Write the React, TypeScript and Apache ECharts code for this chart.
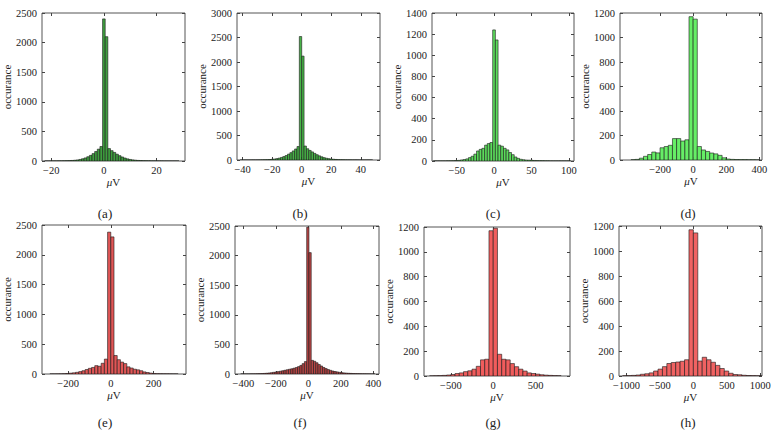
import React, { useEffect, useRef } from "react";
import * as echarts from "echarts";

// ---------- data ----------
// each histogram: left edge of first bin, bin width, counts per bin
const binStartA = -22.5;
const binWidthA = 1;
const countsA = [1, 1, 1, 2, 2, 3, 3, 4, 5, 7, 9, 13, 18, 26, 38, 52, 72, 95, 125, 160, 200, 245, 2400, 2100, 210, 175, 145, 115, 90, 68, 50, 36, 26, 19, 14, 10, 8, 6, 5, 4, 3, 3, 2, 2, 2, 1, 1, 1, 1, 1, 1];

const binStartB = -41.6;
const binWidthB = 1.6;
const countsB = [1, 1, 1, 1, 1, 2, 2, 2, 3, 4, 5, 7, 10, 14, 20, 28, 38, 52, 70, 92, 120, 150, 185, 225, 275, 2520, 2120, 285, 230, 195, 165, 135, 108, 85, 65, 48, 36, 27, 20, 15, 11, 8, 6, 5, 4, 3, 3, 2, 2, 2, 1, 1, 1, 1, 1, 1];

const binStartC = -81;
const binWidthC = 3.6;
const countsC = [1, 1, 1, 1, 1, 2, 2, 3, 4, 6, 10, 14, 20, 32, 45, 65, 95, 110, 120, 150, 165, 175, 1240, 1145, 150, 140, 120, 105, 80, 60, 38, 25, 16, 12, 9, 8, 7, 5, 4, 3, 3, 2, 2, 1, 1, 1, 1, 1, 1, 1, 1];

const binStartD = -375;
const binWidthD = 25;
const countsD = [2, 5, 15, 30, 45, 65, 58, 100, 110, 120, 175, 175, 155, 165, 1170, 1150, 110, 82, 70, 57, 50, 38, 18, 8, 5, 4, 3, 3, 2, 2, 1];

const binStartE = -285;
const binWidthE = 15;
const countsE = [1, 1, 2, 3, 5, 8, 14, 20, 28, 40, 55, 75, 95, 110, 140, 130, 180, 250, 2380, 2300, 310, 240, 200, 175, 120, 100, 80, 70, 55, 35, 25, 15, 8, 5, 4, 3, 3, 2, 1, 1];

const binStartF = -416;
const binWidthF = 14;
const countsF = [1, 1, 1, 1, 2, 2, 3, 4, 5, 7, 10, 13, 17, 22, 28, 34, 40, 47, 55, 63, 72, 80, 88, 98, 110, 125, 145, 175, 210, 2480, 2050, 230, 215, 190, 160, 135, 110, 92, 75, 62, 50, 42, 35, 28, 22, 18, 15, 12, 10, 8, 7, 5, 4, 3, 3, 2, 2, 1, 1];

const binStartG = -750;
const binWidthG = 50;
const countsG = [1, 2, 3, 5, 8, 12, 20, 25, 35, 42, 55, 78, 130, 135, 1170, 1190, 175, 135, 130, 100, 75, 55, 40, 25, 20, 15, 10, 7, 5, 3, 2];

const binStartH = -1056;
const binWidthH = 66;
const countsH = [2, 3, 5, 8, 14, 18, 25, 40, 55, 75, 100, 108, 112, 118, 130, 1170, 1145, 120, 150, 130, 110, 85, 60, 40, 22, 12, 10, 6, 4, 3, 2, 1];

// axis ranges and tick labels
const xRangeA = [-23.5, 30.8];
const xRangeB = [-43.8, 53];
const xRangeC = [-83, 107];
const xRangeD = [-442, 416];
const xRangeE = [-322, 352];
const xRangeF = [-451, 435];
const xRangeG = [-816, 905];
const xRangeH = [-1111, 1025];

const xTicksA = [-20, 0, 20];
const xTicksB = [-40, -20, 0, 20, 40];
const xTicksC = [-50, 0, 50, 100];
const xTicksD = [-200, 0, 200, 400];
const xTicksE = [-200, 0, 200];
const xTicksF = [-400, -200, 0, 200, 400];
const xTicksG = [-500, 0, 500];
const xTicksH = [-1000, -500, 0, 500, 1000];

const yMaxes = [2500, 3000, 1400, 1200, 2500, 2500, 1200, 1200];
const yIntervals = [500, 500, 200, 200, 500, 500, 200, 200];
const captions = ["(a)", "(b)", "(c)", "(d)", "(e)", "(f)", "(g)", "(h)"];
const xAxisName = "{i|\u03bc}V";
const yAxisName = "occurance";

// ---------- layout & style ----------
const FONT = "Liberation Serif";
const TEXT = "#222";
const layouts = [
  { left: 42, top: 13, width: 143, height: 148, nameGap: 26, cap: [105, 213] },
  { left: 237, top: 13, width: 143, height: 147, nameGap: 26, cap: [300, 213] },
  { left: 432, top: 13, width: 142, height: 148, nameGap: 27, cap: [493, 213] },
  { left: 620, top: 13, width: 142, height: 147, nameGap: 19, cap: [688, 213] },
  { left: 42, top: 225, width: 144, height: 149, nameGap: 26, cap: [105, 422] },
  { left: 235, top: 226, width: 144, height: 148, nameGap: 24, cap: [300, 422] },
  { left: 424, top: 227, width: 146, height: 149, nameGap: 21, cap: [493, 422] },
  { left: 619, top: 226, width: 143, height: 150, nameGap: 25, cap: [688, 422] },
];
const fills = ["#3f9f3f", "#47b247", "#5cdc5c", "#66ee66", "#e05656", "#b84444", "#f05c5c", "#f06262"];

const panels = [
  { start: binStartA, w: binWidthA, counts: countsA, range: xRangeA, ticks: xTicksA },
  { start: binStartB, w: binWidthB, counts: countsB, range: xRangeB, ticks: xTicksB },
  { start: binStartC, w: binWidthC, counts: countsC, range: xRangeC, ticks: xTicksC },
  { start: binStartD, w: binWidthD, counts: countsD, range: xRangeD, ticks: xTicksD },
  { start: binStartE, w: binWidthE, counts: countsE, range: xRangeE, ticks: xTicksE },
  { start: binStartF, w: binWidthF, counts: countsF, range: xRangeF, ticks: xTicksF },
  { start: binStartG, w: binWidthG, counts: countsG, range: xRangeG, ticks: xTicksG },
  { start: binStartH, w: binWidthH, counts: countsH, range: xRangeH, ticks: xTicksH },
];

const fmt = (v: number) => String(v).replace("-", "\u2212");

function buildOption() {
  const grid: any[] = [];
  const xAxis: any[] = [];
  const yAxis: any[] = [];
  const series: any[] = [];
  const graphic: any[] = [];
  const tickStyle = { color: "#444", width: 1 };
  panels.forEach((p, i) => {
    const L = layouts[i];
    grid.push({
      left: L.left, top: L.top, width: L.width, height: L.height,
      show: true, borderColor: "#555", borderWidth: 1, backgroundColor: "transparent",
    });
    xAxis.push({
      type: "value", gridIndex: i, min: p.range[0], max: p.range[1], position: "bottom",
      axisLine: { show: false, onZero: false }, splitLine: { show: false },
      axisTick: { inside: true, length: 3, customValues: p.ticks, lineStyle: tickStyle },
      axisLabel: { customValues: p.ticks, formatter: fmt, fontFamily: FONT, fontSize: 10.5, color: TEXT, margin: 4 },
      name: xAxisName, nameLocation: "middle", nameGap: 15,
      nameTextStyle: {
        fontFamily: FONT, fontSize: 11, color: TEXT,
        rich: { i: { fontFamily: FONT, fontSize: 11, fontStyle: "italic", color: TEXT } },
      },
    });
    xAxis.push({
      type: "value", gridIndex: i, min: p.range[0], max: p.range[1], position: "top",
      axisLine: { show: false, onZero: false }, splitLine: { show: false }, axisLabel: { show: false },
      axisTick: { inside: true, length: 3, customValues: p.ticks, lineStyle: tickStyle },
    });
    yAxis.push({
      type: "value", gridIndex: i, min: 0, max: yMaxes[i], interval: yIntervals[i], position: "left",
      axisLine: { show: false, onZero: false }, splitLine: { show: false },
      axisTick: { inside: true, length: 3, lineStyle: tickStyle },
      axisLabel: { formatter: fmt, fontFamily: FONT, fontSize: 10.5, color: TEXT, margin: 5 },
      name: yAxisName, nameLocation: "middle", nameGap: L.nameGap,
      nameTextStyle: { fontFamily: FONT, fontSize: 11, color: TEXT },
    });
    yAxis.push({
      type: "value", gridIndex: i, min: 0, max: yMaxes[i], interval: yIntervals[i], position: "right",
      axisLine: { show: false, onZero: false }, splitLine: { show: false }, axisLabel: { show: false },
      axisTick: { inside: true, length: 3, lineStyle: tickStyle },
    });
    const data = p.counts.map((c, k) => [p.start + k * p.w, p.start + (k + 1) * p.w, c]);
    const fill = fills[i];
    series.push({
      type: "custom", xAxisIndex: 2 * i, yAxisIndex: 2 * i, data, clip: true,
      encode: { x: [0, 1], y: 2 },
      renderItem: (_params: any, api: any) => {
        const a = api.coord([api.value(0), api.value(2)]);
        const b = api.coord([api.value(1), 0]);
        return {
          type: "rect",
          shape: { x: a[0], y: a[1], width: b[0] - a[0], height: b[1] - a[1] },
          style: { fill, stroke: "#1a1a1a", lineWidth: 0.6 },
        };
      },
    });
    graphic.push({
      type: "text", x: L.cap[0], y: L.cap[1],
      style: { text: captions[i], fontFamily: FONT, fontSize: 13, fill: TEXT, textAlign: "center", textVerticalAlign: "middle" },
    });
  });
  return { animation: false, backgroundColor: "#fff", grid, xAxis, yAxis, series, graphic };
}

export default function App() {
  const ref = useRef<HTMLDivElement>(null);
  useEffect(() => {
    if (!ref.current) return;
    const chart = echarts.init(ref.current, undefined, { renderer: "svg" });
    chart.setOption(buildOption() as any);
    return () => chart.dispose();
  }, []);
  return (
    <div
      ref={ref}
      style={{ position: "fixed", left: 0, top: 0, width: 776, height: 448, background: "#fff" }}
    />
  );
}
